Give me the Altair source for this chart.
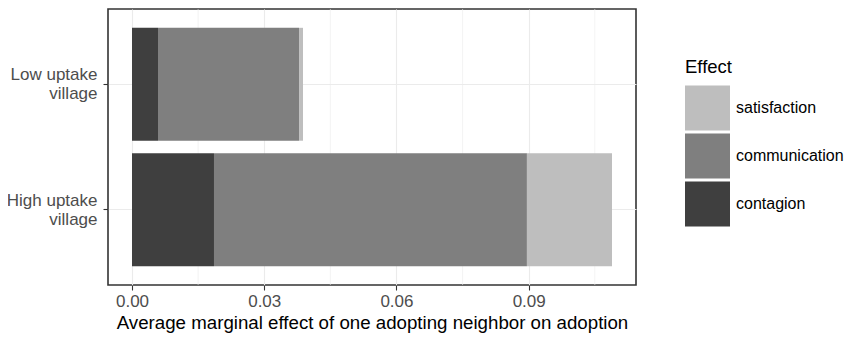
import altair as alt
import pandas as pd

categories = ["Low uptake village", "High uptake village"]
effects = ["contagion", "communication", "satisfaction"]
contagion = [0.0059, 0.0186]
communication = [0.0320, 0.0710]
satisfaction = [0.0009, 0.0193]
legend_order = ["satisfaction", "communication", "contagion"]
colors = ["#bebebe", "#7f7f7f", "#3f3f3f"]
x_ticks = [0.0, 0.03, 0.06, 0.09]
x_minor = [0.015, 0.045, 0.075, 0.105]

rows = []
for i, cat in enumerate(categories):
    for j, (eff, vals) in enumerate(zip(effects, [contagion, communication, satisfaction])):
        rows.append({"village": cat, "Effect": eff, "value": vals[i], "ord": j})
df = pd.DataFrame(rows)
minor_df = pd.DataFrame({"x": x_minor})

total_max = max(a + b + c for a, b, c in zip(contagion, communication, satisfaction))
pad = 0.05 * total_max
xdomain = [-pad, total_max + pad]
FONT = "Liberation Sans"

xscale = alt.Scale(domain=xdomain, nice=False, zero=False)
x_axis = alt.Axis(
    values=x_ticks,
    format=".2f",
    title="Average marginal effect of one adopting neighbor on adoption",
    titleFont=FONT,
    titleFontSize=18.7,
    titleFontWeight="normal",
    titleColor="black",
    titlePadding=4,
    labelFont=FONT,
    labelFontSize=17,
    labelColor="#4d4d4d",
    labelPadding=3,
    tickColor="#333333",
    tickSize=5,
    tickWidth=1.1,
    domain=False,
    grid=True,
    gridColor="#ebebeb",
    gridWidth=1.1,
)

minor = alt.Chart(minor_df).mark_rule(color="#ebebeb", strokeWidth=0.6).encode(
    x=alt.X("x:Q", scale=xscale, axis=x_axis)
)

bars = alt.Chart(df).mark_bar().encode(
    x=alt.X("sum(value):Q", stack="zero", scale=xscale, axis=x_axis),
    y=alt.Y(
        "village:N",
        sort=categories,
        scale=alt.Scale(paddingInner=0.1, paddingOuter=0.15),
        axis=alt.Axis(
            title=None,
            labelExpr="[replace(datum.label, ' village', ''), 'village']",
            labelFont=FONT,
            labelFontSize=17,
            labelColor="#4d4d4d",
            labelLineHeight=19,
            labelOffset=-9,
            labelPadding=6,
            tickColor="#333333",
            tickSize=5,
            tickWidth=1.1,
            domain=False,
            grid=True,
            gridColor="#ebebeb",
            gridWidth=1.1,
        ),
    ),
    color=alt.Color(
        "Effect:N",
        scale=alt.Scale(domain=legend_order, range=colors),
        legend=alt.Legend(
            orient="none",
            legendX=577,
            legendY=49,
            title="Effect",
            titleFont=FONT,
            titleFontSize=18.5,
            titleFontWeight="normal",
            titleColor="black",
            titlePadding=9,
            labelFont=FONT,
            labelFontSize=16,
            labelColor="black",
            labelOffset=6,
            symbolType="square",
            symbolSize=2025,
            symbolStrokeWidth=0,
            symbolOpacity=1,
            rowPadding=3,
        ),
    ),
    order=alt.Order("ord:Q", sort="ascending"),
)

chart = (
    alt.layer(minor, bars)
    .properties(
        width=528,
        height=276,
        autosize=alt.AutoSizeParams(type="none"),
        padding={"left": 100, "top": 1, "right": 208, "bottom": 50},
    )
    .configure(background="white")
    .configure_view(stroke="#333333", strokeWidth=1.6)
)

chart.save("out.html", embed_options={"renderer": "svg", "actions": False})
